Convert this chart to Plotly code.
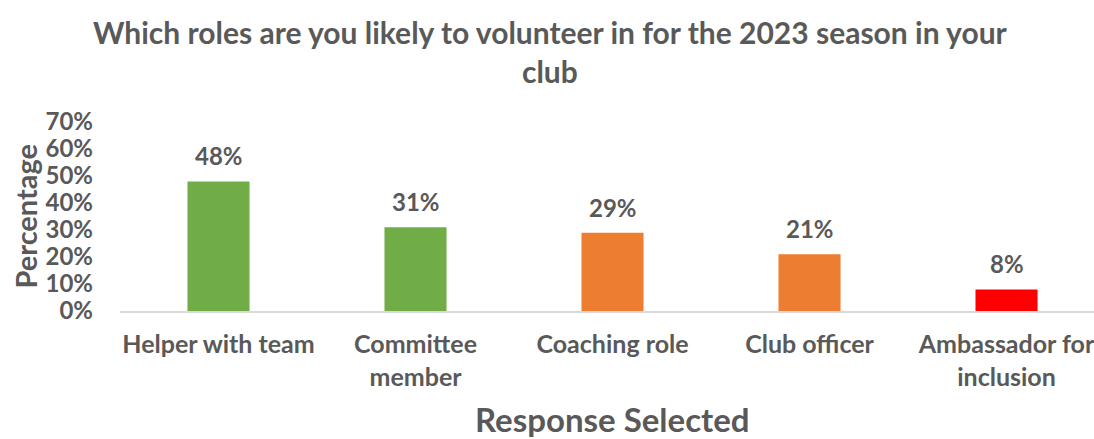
import plotly.graph_objects as go

categories = ["Helper with team", "Committee<br>member", "Coaching role", "Club officer", "Ambassador for<br>inclusion"]
values = [0.48, 0.31, 0.29, 0.21, 0.08]
bar_colors = ["#70AD47", "#70AD47", "#ED7D31", "#ED7D31", "#FF0000"]
y_ticks = [0, 0.1, 0.2, 0.3, 0.4, 0.5, 0.6, 0.7]
y_tick_labels = ["0%", "10%", "20%", "30%", "40%", "50%", "60%", "70%"]
title_text = "Which roles are you likely to volunteer in for the 2023 season in your<br>club"
x_title = "Response Selected"
y_title = "Percentage"

FONT = "Lato"
GRAY = "#595959"

W, H = 1094, 439
L, R, T, B = 120, 0, 122, 128
pw, ph = W - L - R, H - T - B

def px_x(px):
    return (px - L) / pw

def px_y(py):
    return (H - py - B) / ph

fig = go.Figure()
fig.add_trace(go.Bar(
    x=list(range(len(categories))), y=values,
    marker=dict(color=bar_colors, line=dict(width=0)),
    width=0.315,
    hoverinfo="skip",
))

annotations = []
for i, v in enumerate(values):
    annotations.append(dict(
        x=i, y=v, xref="x", yref="y", text=f"<b>{round(v*100)}%</b>",
        showarrow=False, yanchor="bottom", yshift=9,
        font=dict(family=FONT, size=24, color=GRAY),
    ))
annotations.append(dict(
    x=px_x(612), y=px_y(419), xref="paper", yref="paper", text=f"<b>{x_title}</b>",
    showarrow=False, xanchor="center", yanchor="middle",
    font=dict(family=FONT, size=33, color=GRAY),
))
annotations.append(dict(
    xref="paper", yref="paper", x=px_x(25), y=0.5, xanchor="center", yanchor="middle",
    text=f"<b>{y_title}</b>", textangle=-90, showarrow=False,
    font=dict(family=FONT, size=29, color=GRAY),
))
annotations.append(dict(
    xref="paper", yref="paper", x=px_x(550), y=px_y(51), xanchor="center", yanchor="middle",
    text=f"<b>{title_text}</b>", showarrow=False,
    font=dict(family=FONT, size=30, color=GRAY),
))

fig.update_layout(
    width=W, height=H,
    margin=dict(l=L, r=R, t=T, b=B, pad=0),
    paper_bgcolor="white", plot_bgcolor="white",
    showlegend=False,
    xaxis=dict(
        tickmode="array", tickvals=list(range(len(categories))),
        ticktext=[f"<b>{c}</b>" for c in categories],
        range=[-0.5, 4.444],
        showline=True, linecolor="#D9D9D9", linewidth=2,
        showgrid=False, zeroline=False, ticks="",
        tickfont=dict(family=FONT, size=25, color=GRAY),
        ticklabelstandoff=10,
        ticklabeloverflow="allow",
        automargin=False,
        fixedrange=True,
    ),
    yaxis=dict(
        range=[0, 0.7], tickmode="array", tickvals=y_ticks,
        ticktext=[f"<b>{t}</b>" for t in y_tick_labels],
        showgrid=False, zeroline=False, showline=False, ticks="",
        tickfont=dict(family=FONT, size=24, color=GRAY),
        ticklabelstandoff=26,
        automargin=False,
        fixedrange=True,
    ),
    annotations=annotations,
)

fig.write_html("out.html", config={"displayModeBar": False})
